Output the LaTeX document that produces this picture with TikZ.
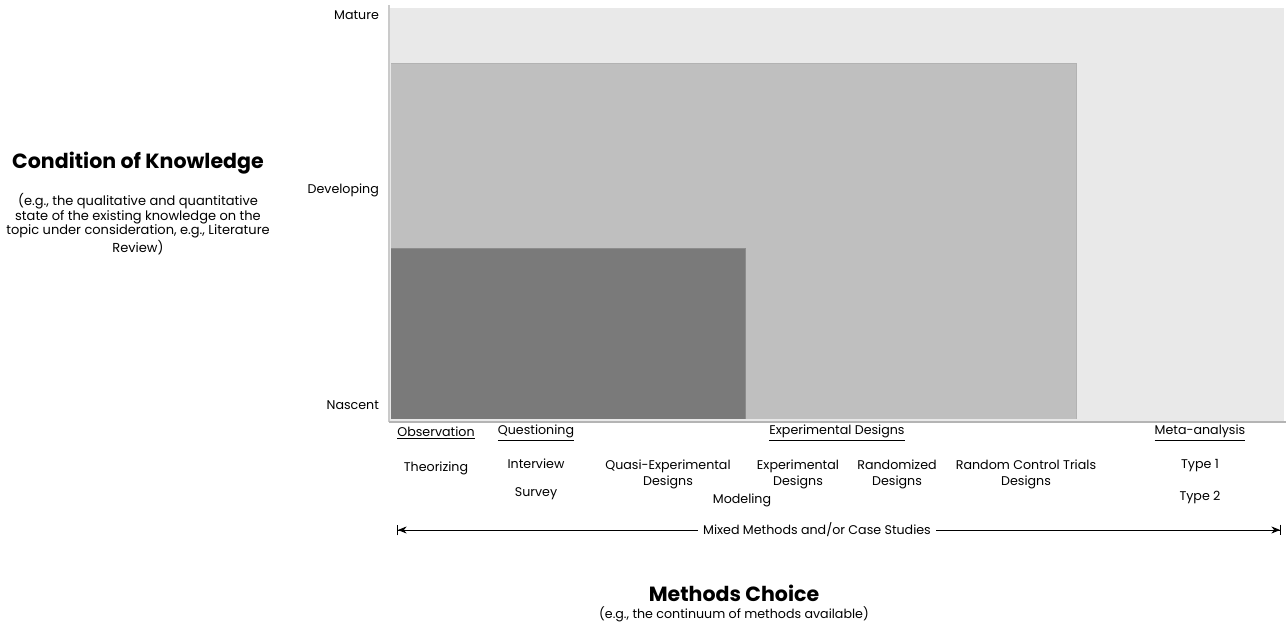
\documentclass[tikz,border=0pt]{standalone}
\usepackage{fontspec}
\setmainfont{Poppins}
\usetikzlibrary{arrows.meta}
\definecolor{matureband}{HTML}{E9E9E9}
\definecolor{developband}{HTML}{BFBFBF}
\definecolor{nascentband}{HTML}{7A7A7A}
\definecolor{axisgrey}{HTML}{B4B4B4}
\begin{document}
\begin{tikzpicture}[x=0.02cm,y=-0.02cm,
  lbl/.style={font=\fontsize{7.2}{9}\selectfont,align=center,inner sep=1pt},
  lvl/.style={lbl,anchor=east},
  head/.style={lbl},
  title/.style={font=\fontsize{11.7}{13}\selectfont\bfseries,inner sep=1pt}]
  \useasboundingbox (0,0) rectangle (1286,626);
  % knowledge bands
  \fill [matureband] (389,8) rectangle (1284,421);
  \fill [developband] (391,63) rectangle (1076,419);
  \draw [black!30,line width=0.4pt] (391,63) -- (1076,63) -- (1076,419);
  \fill [nascentband] (391,248) rectangle (745,419);
  \draw [black!45,line width=0.4pt] (391,248) -- (745,248) -- (745,419);
  % axes
  \draw [axisgrey!70,line width=1.6pt] (389,5) -- (389,422);
  \draw [axisgrey,line width=1.6pt] (389,422) -- (1286,422);
  % levels
  \node [lvl] (mature) at (381,15) {Mature};
  \node [lvl] (developing) at (381,190) {Developing};
  \node [lvl] (nascent) at (381,405) {Nascent};
  \node [title] (condition) at (138,163) {Condition of Knowledge};
  \node [font=\fontsize{7.4}{8.4}\selectfont,align=center,inner sep=0pt]
    (conditionnote) at (138,224) {(e.g., the qualitative and quantitative\\state of the existing knowledge on the\\topic under consideration, e.g., Literature\\Review)};
  % method families
  \node [head] (observation) at (436,433) {\underline{Observation}};
  \node [head] (questioning) at (536,433) {\underline{Questioning}};
  \node [head] (experimental) at (837,433) {\underline{Experimental Designs}};
  \node [head] (meta) at (1200,433) {\underline{Meta-analysis}};
  % methods
  \node [lbl] (theorizing) at (436,468) {Theorizing};
  \node [lbl] (interview) at (536,464) {Interview};
  \node [lbl] (survey) at (536,494) {Survey};
  \node [lbl] (quasi) at (668,474) {Quasi-Experimental\\Designs};
  \node [lbl] (expdesigns) at (798,474) {Experimental\\Designs};
  \node [lbl] (randomized) at (897,474) {Randomized\\Designs};
  \node [lbl] (rct) at (1026,474) {Random Control Trials\\Designs};
  \node [lbl] (modeling) at (742,500) {Modeling};
  \node [lbl] (type1) at (1200,466) {Type 1};
  \node [lbl] (type2) at (1200,497) {Type 2};
  % mixed methods span
  \coordinate (mixleft) at (397,530);
  \coordinate (mixright) at (1281,530);
  \draw [line width=0.5pt,{Bar[width=6pt]Stealth[length=5pt,width=4pt]}-{Stealth[length=5pt,width=4pt]Bar[width=6pt]}] (mixleft) -- (mixright);
  \node [lbl,fill=white,inner xsep=3pt] (mixed) at (817,530) {Mixed Methods and/or Case Studies};
  % methods axis title
  \node [title] (methods) at (734,593) {Methods Choice};
  \node [lbl] (methodsnote) at (734,614) {(e.g., the continuum of methods available)};
\end{tikzpicture}
\end{document}
